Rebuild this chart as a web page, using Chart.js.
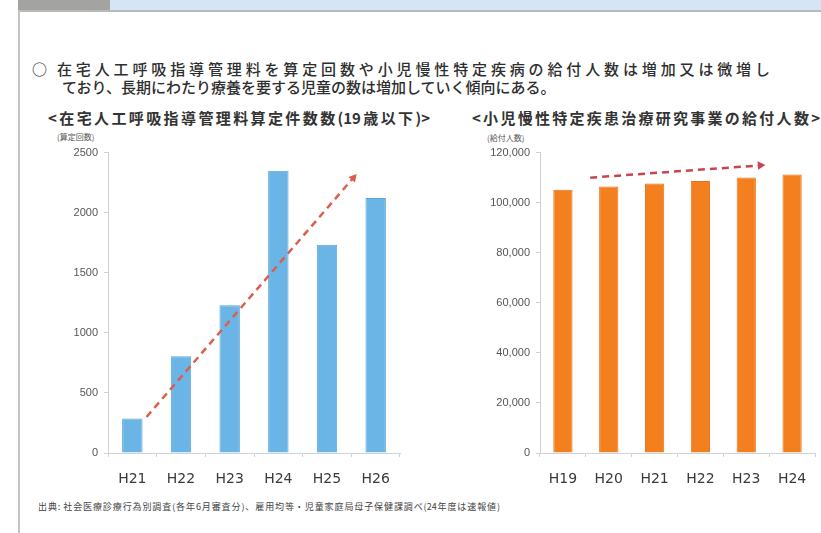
<!DOCTYPE html>
<html>
<head>
<meta charset="utf-8">
<script src="https://cdn.jsdelivr.net/npm/chart.js@4"></script>
<style>
  html, body { margin: 0; padding: 0; background: #fff; }
  body { width: 821px; height: 533px; position: relative; overflow: hidden;
         font-family: "Noto Sans CJK JP", "Noto Sans", sans-serif; color: #333; }
  .band-gray { position: absolute; left: 18px; top: 0; width: 92px; height: 10px; background: #a3a4a2; }
  .band-blue { position: absolute; left: 110px; top: 0; width: 711px; height: 10px; background: #d5e5f5; }
  .rule-h { position: absolute; left: 18px; top: 10px; width: 803px; height: 2px; background: #b9bab9; }
  .rule-v { position: absolute; left: 18px; top: 10px; width: 2px; height: 523px; background: #c4c4c4; }
  .txt { position: absolute; white-space: nowrap; }
  .just { text-align: justify; text-align-last: justify; white-space: normal; }
  .head { font-size: 15px; font-weight: 500; color: #2e2e2e; line-height: 18px; }
  .ttl { font-size: 15px; font-weight: 700; color: #333; line-height: 18px; }
  .unit { font-size: 8px; color: #555; }
  .foot { font-size: 9px; color: #444; line-height: 12px; }
  .wrap { position: absolute; }
</style>
</head>
<body>
<div class="band-gray"></div>
<div class="band-blue"></div>
<div class="rule-h"></div>
<div class="rule-v"></div>

<div class="txt head" style="left:32px; top:60px;">○</div>
<div class="txt head just" style="left:57px; top:60px; width:713px;">在宅人工呼吸指導管理料を算定回数や小児慢性特定疾病の給付人数は増加又は微増し</div>
<div class="txt head" style="left:62px; top:78px;">ており、長期にわたり療養を要する児童の数は増加していく傾向にある。</div>

<div class="txt ttl just" style="left:48px; top:109px; width:382px;">&lt;在宅人工呼吸指導管理料算定件数数(19歳以下)&gt;</div>
<div class="txt ttl just" style="left:472px; top:109px; width:348px;">&lt;小児慢性特定疾患治療研究事業の給付人数&gt;</div>
<div class="txt unit" style="left:57px; top:131px;">(算定回数)</div>
<div class="txt unit" style="left:487px; top:132px;">(給付人数)</div>

<div class="wrap" style="left:30px; top:140px; width:380px; height:350px;"><canvas id="left"></canvas></div>
<div class="wrap" style="left:460px; top:140px; width:361px; height:350px;"><canvas id="right"></canvas></div>

<div class="txt foot just" style="left:38px; top:501px; width:462px;">出典: 社会医療診療行為別調査(各年6月審査分)、雇用均等・児童家庭局母子保健課調べ(24年度は速報値)</div>

<script>
// left chart: 在宅人工呼吸指導管理料算定件数
const leftYears = ["H21", "H22", "H23", "H24", "H25", "H26"];
const leftCounts = [287, 806, 1230, 2349, 1734, 2123];
const leftTicks = [0, 500, 1000, 1500, 2000, 2500];
const leftTrend = [{ x: -0.15, y: 300 }, { x: 4.95, y: 2290 }];

// right chart: 小児慢性特定疾患 給付人数
const rightYears = ["H19", "H20", "H21", "H22", "H23", "H24"];
const rightCounts = [105150, 106480, 107660, 108700, 110020, 111300];
const rightTicks = [0, 20000, 40000, 60000, 80000, 100000, 120000];
const rightTrend = [{ x: -0.04, y: 110000 }, { x: 4.91, y: 114900 }];

const tickFont = { family: "'Liberation Sans', Arial, sans-serif", size: 11 };
const catFont = { family: "'DejaVu Sans', sans-serif", size: 14 };

// rotate the arrow head so it follows the dashed line on screen
function arrowAngle(ctx) {
  const c = ctx.chart;
  const xs = c.scales.xa, ys = c.scales.y;
  if (!xs || !ys) return 0;
  const d = ctx.dataset.data;
  const dx = xs.getPixelForValue(d[1].x) - xs.getPixelForValue(d[0].x);
  const dy = ys.getPixelForValue(d[1].y) - ys.getPixelForValue(d[0].y);
  return Math.atan2(dx, -dy) * 180 / Math.PI;
}

function makeChart(id, cfg) {
  const ctx = document.getElementById(id).getContext("2d");
  return new Chart(ctx, {
    type: "bar",
    data: {
      labels: cfg.labels,
      datasets: [
        {
          type: "line",
          data: cfg.trend,
          xAxisID: "xa",
          yAxisID: "y",
          borderColor: cfg.arrowColor,
          backgroundColor: cfg.arrowColor,
          borderWidth: 2.5,
          borderDash: [7, 5],
          pointStyle: "triangle",
          pointRadius: [0, 5],
          pointBorderWidth: 0,
          pointRotation: arrowAngle,
          order: 0,
        },
        {
          data: cfg.values,
          xAxisID: "x",
          yAxisID: "y",
          grouped: false,
          backgroundColor: cfg.barColor,
          borderColor: cfg.barEdge,
          borderWidth: 1,
          barPercentage: 0.84,
          categoryPercentage: 0.5,
          order: 1,
        },
      ],
    },
    options: {
      animation: false,
      responsive: true,
      maintainAspectRatio: false,
      events: [],
      layout: { padding: { top: cfg.padTop, right: cfg.padRight, left: 0, bottom: 0 } },
      plugins: { legend: { display: false }, tooltip: { enabled: false } },
      scales: {
        x: {
          type: "category",
          grid: { offset: true, drawOnChartArea: false, drawTicks: true, tickLength: 4, color: "#c9d3dc" },
          border: { color: "#c9d3dc" },
          ticks: { color: "#3a3a3a", font: catFont, padding: 14 },
          afterFit: (s) => { s.height = 37; },
        },
        xa: {
          type: "linear",
          display: false,
          min: -0.5,
          max: cfg.labels.length - 0.5,
        },
        y: {
          min: 0,
          max: cfg.ticks[cfg.ticks.length - 1],
          afterBuildTicks: (s) => { s.ticks = cfg.ticks.map(v => ({ value: v })); },
          grid: { drawOnChartArea: false, drawTicks: true, tickLength: 4, color: "#c9d3dc" },
          border: { color: "#c9d3dc" },
          ticks: {
            color: "#555",
            font: tickFont,
            padding: 6,
            callback: cfg.fmt,
          },
          afterFit: (s) => { s.width = cfg.axisWidth; },
        },
      },
    },
  });
}

makeChart("left", {
  labels: leftYears,
  values: leftCounts,
  trend: leftTrend,
  ticks: leftTicks,
  barColor: "#6ab5e5",
  barEdge: "#5aa6d8",
  arrowColor: "#d8614e",
  padTop: 7,
  padRight: 10,
  axisWidth: 78,
  fmt: (v) => String(v),
});

makeChart("right", {
  labels: rightYears,
  values: rightCounts,
  trend: rightTrend,
  ticks: rightTicks,
  barColor: "#f47f1f",
  barEdge: "#e8741a",
  arrowColor: "#c9444f",
  padTop: 8,
  padRight: 6,
  axisWidth: 80,
  fmt: (v) => v.toLocaleString("en-US"),
});
</script>
</body>
</html>
